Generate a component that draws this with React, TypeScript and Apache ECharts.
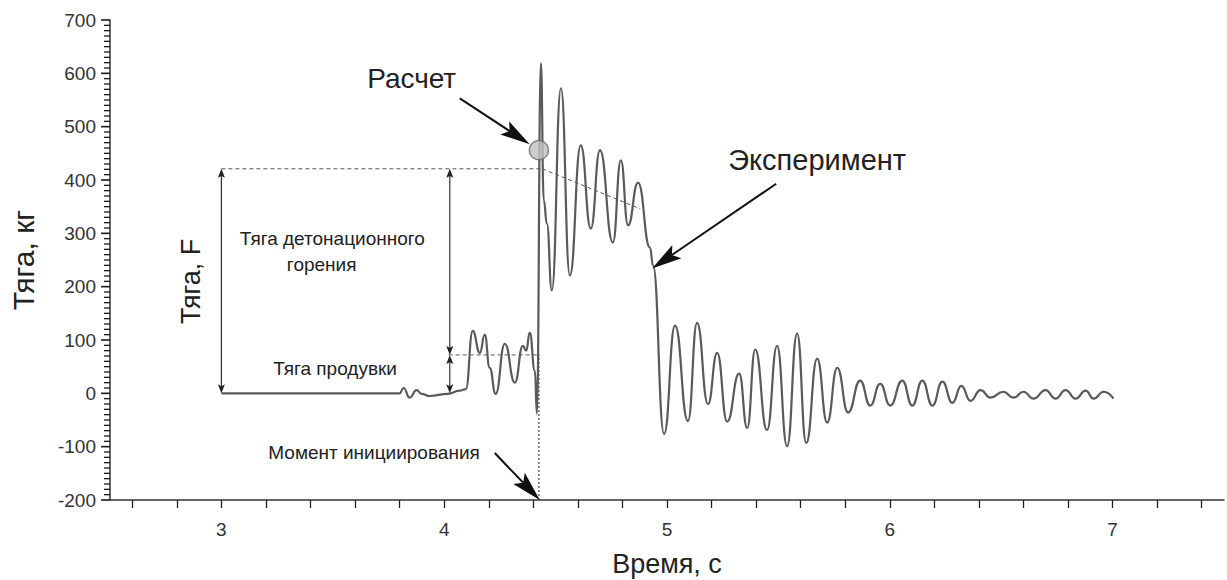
import React, { useEffect, useRef } from "react";
import * as echarts from "echarts";

const timeS = [
  3.0, 3.8, 3.818, 3.845, 3.876, 3.899, 3.935, 4.016, 4.07, 4.097, 4.128, 4.16, 4.182, 4.204, 4.231,
  4.272, 4.317, 4.353, 4.368, 4.384, 4.407, 4.416, 4.434, 4.447, 4.461, 4.483, 4.524, 4.564, 4.613,
  4.658, 4.699, 4.757, 4.793, 4.825, 4.87, 4.924, 4.937, 4.987, 5.036, 5.094, 5.135, 5.184, 5.225,
  5.27, 5.324, 5.36, 5.396, 5.449, 5.494, 5.539, 5.584, 5.625, 5.674, 5.719, 5.764, 5.813, 5.867,
  5.912, 5.957, 6.002, 6.056, 6.101, 6.146, 6.191, 6.236, 6.281, 6.321, 6.362, 6.407, 6.452, 6.51,
  6.555, 6.6, 6.645, 6.699, 6.744, 6.789, 6.834, 6.879, 6.915, 6.96, 7.004,
];
const thrustKg = [
  0, 0, 10, -8, 6, -1, -5, -1, 5, 8, 117, 76, 110, 48, -1,
  93, 20, 89, 80, 114, 42, -38, 619, 362, 318, 193, 572, 221, 465,
  309, 456, 283, 437, 315, 395, 273, 240, -76, 127, -52, 132, -20, 76,
  -53, 37, -65, 82, -69, 89, -99, 112, -93, 65, -55, 48, -36, 24,
  -23, 18, -23, 24, -23, 24, -23, 22, -18, 14, -14, 6, -8, 3,
  -8, 3, -10, 6, -10, 6, -10, 5, -10, 3, -10,
];

// ---- axes ----
const xMin = 2.5;
const xMax = 7.5;
const xLabelValues = [3, 4, 5, 6, 7];
const xTickValues = [
  2.6, 2.8, 3, 3.2, 3.4, 3.6, 3.8, 4, 4.2, 4.4, 4.6, 4.8, 5, 5.2, 5.4, 5.6, 5.8, 6, 6.2, 6.4, 6.6,
  6.8, 7, 7.2, 7.4,
];
const yMin = -200;
const yMax = 700;
const yStep = 100;
const yMinorStep = 10;
const yTickValues = Array.from(
  { length: (yMax - yMin) / yMinorStep + 1 },
  (_, i) => yMin + i * yMinorStep
);

// ---- annotation geometry in data units ----
const calcPoint = [[4.425, 456]];
const detonationLevel = [[3.0, 421], [4.44, 421]];
const calcTrend = [[4.44, 421], [4.88, 346]];
const purgeLevel = [[4.02, 72], [4.43, 72]];
const initiationLine = [[4.425, -200], [4.425, 72]];
// double-headed dimension arrows: [x1, y1, x2, y2]
const dimArrows = [
  [3.0, 0, 3.0, 421],
  [4.025, 72, 4.025, 421],
  [4.025, 0, 4.025, 72],
];
// callout arrows: [fromX, fromY, tipX, tipY]
const callouts = [
  [4.07, 553, 4.384, 467],
  [5.49, 393, 4.933, 234],
  [4.227, -112, 4.429, -200],
];
// text labels
const labelTexts = [
  "Расчет",
  "Эксперимент",
  "Тяга детонационного",
  "горения",
  "Тяга продувки",
  "Момент инициирования",
  "Тяга, F",
];
const labelX = [3.854, 5.674, 3.498, 3.45, 3.51, 3.685, 2.865];
const labelY = [590, 437, 290, 241, 46, -111, 210];

const FONT = "'Liberation Sans', Arial, sans-serif";
const labelSize = [28, 29, 19, 19, 19, 19, 27];

function arrowHead(tip: number[], from: number[], len: number, half: number) {
  const dx = tip[0] - from[0];
  const dy = tip[1] - from[1];
  const d = Math.hypot(dx, dy) || 1;
  const ux = dx / d;
  const uy = dy / d;
  const nx = -uy;
  const ny = ux;
  const bx = tip[0] - ux * len;
  const by = tip[1] - uy * len;
  const mx = tip[0] - ux * len * 0.8;
  const my = tip[1] - uy * len * 0.8;
  return {
    poly: [
      [tip[0], tip[1]],
      [bx + nx * half, by + ny * half],
      [mx, my],
      [bx - nx * half, by - ny * half],
    ],
    neck: [mx, my],
  };
}

export default function App() {
  const ref = useRef<HTMLDivElement>(null);

  useEffect(() => {
    document.body.style.margin = "0";
    if (!ref.current) return;
    const chart = echarts.init(ref.current, undefined, { renderer: "svg" });

    const dashStyle = { color: "#555", width: 1, type: [4, 3] as any };
    const tickLine = { color: "#222", width: 1.3 };

    const option: any = {
      animation: false,
      grid: {
        left: 110,
        top: 20,
        right: 3,
        bottom: 80,
        outerBoundsMode: "none",
      },
      xAxis: {
        type: "value",
        min: xMin,
        max: xMax,
        name: "Время, с",
        nameLocation: "middle",
        nameGap: 50,
        nameTextStyle: { fontSize: 27, color: "#222", fontFamily: FONT },
        axisLine: { show: true, onZero: false, lineStyle: { color: "#333", width: 1.5 } },
        axisTick: {
          show: true,
          inside: false,
          length: 8,
          customValues: xTickValues,
          lineStyle: tickLine,
        },
        axisLabel: {
          show: true,
          customValues: xLabelValues,
          fontSize: 19,
          color: "#333",
          fontFamily: FONT,
          margin: 20,
        },
        splitLine: { show: false },
      },
      yAxis: {
        type: "value",
        min: yMin,
        max: yMax,
        interval: yStep,
        name: "Тяга, кг",
        nameLocation: "middle",
        nameGap: 72,
        nameTextStyle: { fontSize: 30, color: "#222", fontFamily: FONT },
        axisLine: { show: true, onZero: false, lineStyle: { color: "#333", width: 1.5 } },
        axisTick: { show: false },
        axisLabel: {
          show: true,
          fontSize: 19,
          color: "#333",
          fontFamily: FONT,
          margin: 14,
        },
        splitLine: { show: false },
      },
      series: [
        // ruler ticks of the y axis, placed through the y scale
        {
          type: "custom",
          data: yTickValues.map((v) => [xMin, v]),
          clip: false,
          silent: true,
          renderItem: (params: any, api: any) => {
            const v = api.value(1);
            const p = api.coord([api.value(0), v]);
            const major = Math.abs(v % yStep) < 1e-6;
            const len = major ? 9 : 6;
            return {
              type: "line",
              shape: { x1: p[0] - len, y1: p[1], x2: p[0], y2: p[1] },
              style: { stroke: "#1a1a1a", lineWidth: major ? 1.6 : 1.3 },
            };
          },
        },
        {
          type: "line",
          data: detonationLevel,
          showSymbol: false,
          lineStyle: dashStyle,
          silent: true,
        },
        {
          type: "line",
          data: calcTrend,
          showSymbol: false,
          lineStyle: dashStyle,
          silent: true,
        },
        {
          type: "line",
          data: purgeLevel,
          showSymbol: false,
          lineStyle: dashStyle,
          silent: true,
        },
        {
          type: "line",
          data: initiationLine,
          showSymbol: false,
          lineStyle: { color: "#444", width: 1.2, type: [2, 2] },
          silent: true,
        },
        {
          type: "line",
          name: "Эксперимент",
          data: timeS.map((t, i) => [t, thrustKg[i]]),
          showSymbol: false,
          smooth: 0.5,
          smoothMonotone: "x",
          lineStyle: { color: "#5a5a5a", width: 2.2 },
          silent: true,
        },
        {
          type: "scatter",
          name: "Расчет",
          data: calcPoint,
          symbolSize: 19,
          itemStyle: { color: "#c2c2c2", borderColor: "#6a6a6a", borderWidth: 1.5 },
          silent: true,
          z: 5,
        },
        {
          type: "custom",
          data: dimArrows,
          encode: { x: [0, 2], y: [1, 3] },
          silent: true,
          z: 4,
          renderItem: (params: any, api: any) => {
            const a = api.coord([api.value(0), api.value(1)]);
            const b = api.coord([api.value(2), api.value(3)]);
            const h1 = arrowHead(a, b, 9, 3.5);
            const h2 = arrowHead(b, a, 9, 3.5);
            return {
              type: "group",
              children: [
                {
                  type: "line",
                  shape: { x1: h1.neck[0], y1: h1.neck[1], x2: h2.neck[0], y2: h2.neck[1] },
                  style: { stroke: "#333", lineWidth: 1.2 },
                },
                { type: "polygon", shape: { points: h1.poly }, style: { fill: "#222" } },
                { type: "polygon", shape: { points: h2.poly }, style: { fill: "#222" } },
              ],
            };
          },
        },
        {
          type: "custom",
          data: callouts,
          encode: { x: [0, 2], y: [1, 3] },
          silent: true,
          z: 6,
          renderItem: (params: any, api: any) => {
            const s = api.coord([api.value(0), api.value(1)]);
            const t = api.coord([api.value(2), api.value(3)]);
            const h = arrowHead(t, s, 30, 8);
            return {
              type: "group",
              children: [
                {
                  type: "line",
                  shape: { x1: s[0], y1: s[1], x2: h.neck[0], y2: h.neck[1] },
                  style: { stroke: "#111", lineWidth: 2 },
                },
                { type: "polygon", shape: { points: h.poly }, style: { fill: "#111" } },
              ],
            };
          },
        },
        {
          type: "custom",
          data: labelX.map((x, i) => [x, labelY[i]]),
          silent: true,
          z: 7,
          renderItem: (params: any, api: any) => {
            const p = api.coord([api.value(0), api.value(1)]);
            const i = params.dataIndex;
            return {
              type: "text",
              x: p[0],
              y: p[1],
              rotation: labelTexts[i] === "Тяга, F" ? Math.PI / 2 : 0,
              style: {
                text: labelTexts[i],
                fontSize: labelSize[i],
                fontFamily: FONT,
                fill: "#222",
                align: "center",
                verticalAlign: "middle",
              },
            };
          },
        },
      ],
    };

    chart.setOption(option);
    return () => chart.dispose();
  }, []);

  return <div ref={ref} style={{ width: 1227, height: 580 }} />;
}
